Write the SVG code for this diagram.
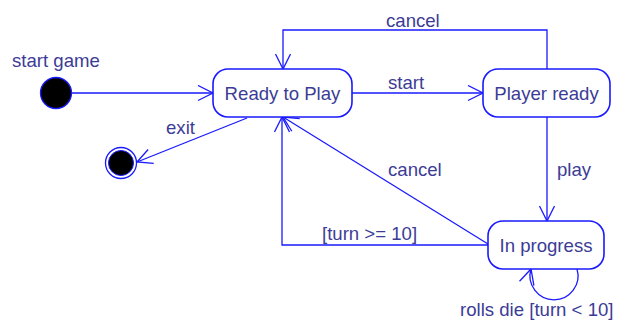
<svg xmlns="http://www.w3.org/2000/svg" width="618" height="327" viewBox="0 0 618 327">
<style>
.st{fill:#fff;stroke:#1a1aff;stroke-width:1.6}
.t{font-family:"Liberation Sans",Arial,sans-serif;font-size:18.6px;fill:#3c3c96}
.c{text-anchor:middle}
.ln{fill:none;stroke:#1a1aff;stroke-width:1.3;marker-end:url(#ah)}
.pl{fill:none;stroke:#1a1aff;stroke-width:1.3}
</style>
<defs>
<marker id="ah" markerUnits="userSpaceOnUse" markerWidth="20" markerHeight="20" refX="16" refY="8" orient="auto">
<path d="M1,0.5 L16,8 L1,15.5" fill="none" stroke="#1a1aff" stroke-width="1.3"/>
</marker>
</defs>
<g id="connectors">
<line class="ln" x1="72" y1="93" x2="213" y2="93"/>
<line class="ln" x1="352" y1="93" x2="483" y2="93"/>
<polyline class="ln" points="547,69 547,30 283,30 283,69"/>
<line class="ln" x1="547" y1="117" x2="547" y2="221"/>
<line class="ln" x1="488" y1="244" x2="283" y2="117"/>
<polyline class="ln" points="488,245 282,245 282,117"/>
<line class="ln" x1="247" y1="118" x2="137" y2="162"/>
<path class="ln" d="M577,269 A24,24 0 1 1 531,269"/>
<text class="t" x="386" y="27">cancel</text>
<text class="t" x="388" y="89">start</text>
<text class="t" x="557" y="176">play</text>
<text class="t" x="388" y="176">cancel</text>
<text class="t" x="322" y="240">[turn &gt;= 10]</text>
<text class="t" x="166" y="134">exit</text>
<text class="t" x="460" y="316">rolls die [turn &lt; 10]</text>
</g>
<g id="start">
<circle cx="56" cy="93" r="15.5" fill="#000" stroke="#1a1aff" stroke-width="1.3"/>
<text class="t" x="12" y="67">start game</text>
</g>
<g id="final">
<circle cx="121" cy="163" r="15.5" fill="#fff" stroke="#1a1aff" stroke-width="1.3"/>
<circle cx="121" cy="163" r="12.5" fill="#000" stroke="#1a1aff" stroke-width="1"/>
</g>
<g id="ready">
<rect class="st" x="213" y="69" width="139" height="48" rx="15"/>
<text class="t c" x="282.5" y="100">Ready to Play</text>
</g>
<g id="player">
<rect class="st" x="483" y="69" width="127" height="48" rx="15"/>
<text class="t c" x="546.5" y="100">Player ready</text>
</g>
<g id="progress">
<rect class="st" x="488" y="221" width="116" height="48" rx="15"/>
<text class="t c" x="546" y="252">In progress</text>
</g>
</svg>
